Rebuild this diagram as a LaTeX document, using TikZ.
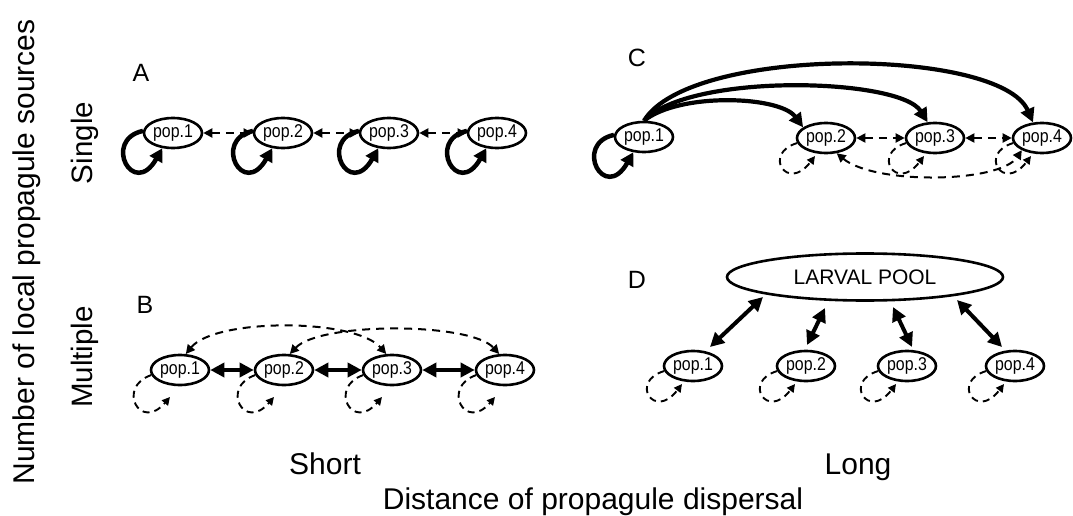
\documentclass[tikz,border=0pt]{standalone}
\usepackage{fontspec}
\setmainfont{Liberation Sans}
\newfontfamily\popfont[FakeStretch=0.86]{Liberation Sans}
\usetikzlibrary{arrows.meta,shapes.geometric,calc}
\tikzset{
 pop/.style={draw, ellipse, line width=2.6pt, minimum width=58pt, minimum height=30pt, inner xsep=-4pt, inner ysep=-1pt, font=\popfont\fontsize{18.5}{18.5}\selectfont},
 pool/.style={draw, ellipse, line width=2.6pt, minimum width=276pt, minimum height=47pt, inner sep=0pt, font=\fontsize{21}{21}\selectfont},
 panel/.style={font=\fontsize{25}{25}\selectfont},
 axis/.style={font=\fontsize{30}{30}\selectfont},
 sidelab/.style={font=\fontsize{29.5}{29.5}\selectfont},
 bigtip/.tip={Triangle[length=14pt,width=14pt]},
 smalltip/.tip={Triangle[length=9pt,width=9pt]},
 thickarr/.style={line width=4pt, bigtip-bigtip},
 curvearr/.style={line width=4.2pt, -bigtip},
 dasharr/.style={line width=2pt, dash pattern=on 8pt off 6pt, smalltip-smalltip},
 loopsolid/.style={line width=4.5pt, -{Triangle[length=13pt,width=14pt]}},
 loopdash/.style={line width=1.9pt, dash pattern=on 7pt off 5pt, -{Triangle[length=8pt,width=8pt]}},
}
\begin{document}
\begin{tikzpicture}[x=1pt,y=1pt]
\fill[white] (0,0) rectangle (1073,-516);
\useasboundingbox (0,0) rectangle (1073,-516);

% axis labels
\node[axis, rotate=90, anchor=base] (num) at (34,-252) {Number of local propagule sources};
\node[sidelab, rotate=90, anchor=base] (single) at (92,-143) {Single};
\node[sidelab, rotate=90, anchor=base] (multiple) at (92,-357) {Multiple};
\node[axis, anchor=base] (short) at (325,-474) {Short};
\node[axis, anchor=base] (long) at (858,-474) {Long};
\node[axis, anchor=base] (dist) at (593,-509) {Distance of propagule dispersal};

% panel A
\node[panel] (lA) at (141,-73) {A};
\node[pop] (a1) at (173,-133) {pop.1};
\node[pop] (a2) at (283,-133) {pop.2};
\node[pop] (a3) at (389,-133) {pop.3};
\node[pop] (a4) at (497,-133) {pop.4};
\foreach \n in {a1,a2,a3,a4}
  \draw[loopsolid] (\n.176) .. controls +(-41,-9) and +(-29,-51) .. (\n.235);
\draw[dasharr] (a1) -- (a2);
\draw[dasharr] (a2) -- (a3);
\draw[dasharr] (a3) -- (a4);

% panel B
\node[panel] (lB) at (145,-305) {B};
\node[pop] (b1) at (180,-370) {pop.1};
\node[pop] (b2) at (284,-370) {pop.2};
\node[pop] (b3) at (392,-370) {pop.3};
\node[pop] (b4) at (505,-370) {pop.4};
\draw[thickarr] (b1) -- (b2);
\draw[thickarr] (b2) -- (b3);
\draw[thickarr] (b3) -- (b4);
\draw[dasharr] (b1.70) .. controls (215,-318) and (355,-318) .. (b3.110);
\draw[dasharr] (b2.70) .. controls (320,-322) and (470,-322) .. (b4.110);
\foreach \n in {b1,b2,b3,b4}
  \draw[loopdash] (\n.190) .. controls +(-35,-12) and +(-30,-35) .. ($(\n)+(-10,-27)$);

% panel C
\node[panel] (lC) at (637,-58) {C};
\node[pop] (c1) at (644,-137) {pop.1};
\node[pop] (c2) at (826,-138) {pop.2};
\node[pop] (c3) at (935,-138) {pop.3};
\node[pop] (c4) at (1042,-138) {pop.4};
\draw[loopsolid] (c1.176) .. controls +(-41,-9) and +(-29,-51) .. (c1.235);
\draw[curvearr] (c1.north) .. controls (680,-92) and (780,-96) .. (c2.155);
\draw[curvearr] (c1.north) .. controls (690,-72) and (900,-78) .. (c3.115);
\draw[curvearr] (c1.north) .. controls (690,-45) and (1000,-47) .. (c4.120);
\draw[dasharr] (c2) -- (c3);
\draw[dasharr] (c3) -- (c4);
\draw[dasharr] (c2.-55) .. controls (875,-185) and (1000,-183) .. (c4.211);
\foreach \n in {c2,c3,c4}
  \draw[loopdash] (\n.190) .. controls +(-35,-10) and +(-28,-37) .. ($(\n)+(-11,-18)$);

% panel D
\node[panel] (lD) at (637,-280) {D};
\node[pool] (pool) at (865,-277) {LARVAL POOL};
\node[pop] (d1) at (693,-366) {pop.1};
\node[pop] (d2) at (806,-366) {pop.2};
\node[pop] (d3) at (907,-366) {pop.3};
\node[pop] (d4) at (1015,-366) {pop.4};
\coordinate (k1a) at (763,-297); \coordinate (k1b) at (710,-347);
\coordinate (k2a) at (825,-308); \coordinate (k2b) at (807,-345);
\coordinate (k3a) at (893,-307); \coordinate (k3b) at (912,-347);
\coordinate (k4a) at (957,-300); \coordinate (k4b) at (1002,-347);
\draw[thickarr] (k1a) -- (k1b);
\draw[thickarr] (k2a) -- (k2b);
\draw[thickarr] (k3a) -- (k3b);
\draw[thickarr] (k4a) -- (k4b);
\foreach \n in {d1,d2,d3,d4}
  \draw[loopdash] (\n.190) .. controls +(-35,-10) and +(-28,-37) .. ($(\n)+(-11,-18)$);
\end{tikzpicture}
\end{document}
